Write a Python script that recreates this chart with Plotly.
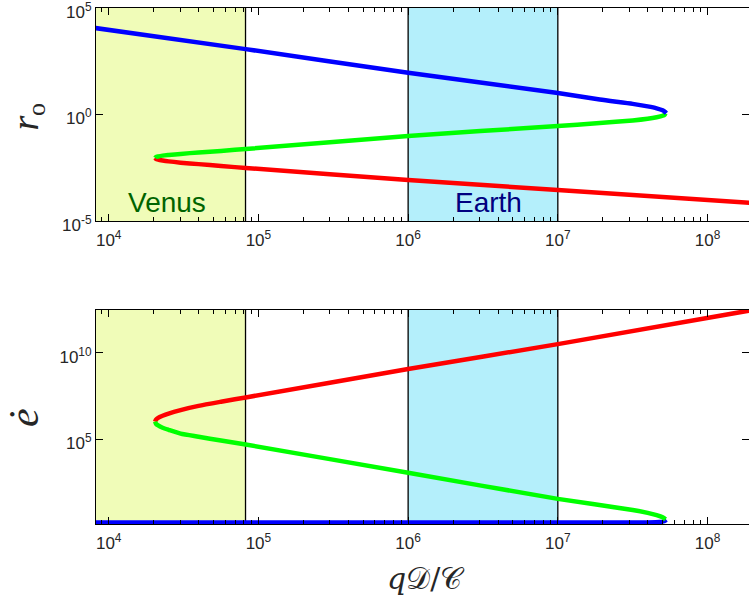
import numpy as np
import plotly.graph_objects as go

# ---- data (log10 values) ----
# top panel: r_o
top_blue_logx = [3.90, 4.915, 6.0, 7.0, 7.28, 7.5, 7.6, 7.66, 7.70, 7.715, 7.725]
top_blue_logy = [4.07, 3.07, 1.96, 1.01, 0.70, 0.50, 0.38, 0.29, 0.20, 0.13, 0.06]
top_green_logx = [4.31, 4.315, 4.33, 4.36, 4.40, 4.48, 4.6, 4.75, 4.915, 6.0, 7.0, 7.28, 7.5, 7.6, 7.66, 7.70, 7.715, 7.72]
top_green_logy = [-2.04, -2.00, -1.97, -1.93, -1.90, -1.85, -1.78, -1.71, -1.62, -1.01, -0.54, -0.40, -0.28, -0.20, -0.13, -0.06, 0.00, 0.05]
top_red_logx = [4.31, 4.315, 4.33, 4.36, 4.40, 4.48, 4.6, 4.75, 4.915, 6.0, 7.0, 8.30]
top_red_logy = [-2.04, -2.08, -2.12, -2.16, -2.20, -2.26, -2.33, -2.42, -2.51, -3.08, -3.54, -4.16]

# bottom panel: e-dot
bot_blue_logx = [3.90, 5.0, 6.0, 7.0, 7.6, 7.68, 7.71, 7.725]
bot_blue_logy = [0.20, 0.20, 0.20, 0.20, 0.20, 0.22, 0.27, 0.36]
bot_green_logx = [4.31, 4.315, 4.33, 4.36, 4.40, 4.48, 4.6, 4.75, 4.915, 6.0, 7.0, 7.5, 7.6, 7.66, 7.70, 7.72]
bot_green_logy = [6.02, 5.91, 5.80, 5.67, 5.55, 5.33, 5.15, 4.93, 4.70, 3.07, 1.56, 0.92, 0.75, 0.62, 0.50, 0.38]
bot_red_logx = [4.31, 4.315, 4.33, 4.36, 4.40, 4.48, 4.6, 4.75, 4.915, 6.0, 7.0, 8.30]
bot_red_logy = [6.02, 6.13, 6.24, 6.36, 6.49, 6.69, 6.93, 7.17, 7.42, 9.06, 10.50, 12.47]

venus_x = [5e3, 8.2e4]
earth_x = [1e6, 1e7]
top_yrange = [-5.0002, 5.0002]
bot_yrange = [0.11, 12.47]
xrange_log = [3.915, 8.277]

x_tickvals = [1e4, 1e5, 1e6, 1e7, 1e8]
x_ticktext = ["10<sup>4</sup>", "10<sup>5</sup>", "10<sup>6</sup>", "10<sup>7</sup>", "10<sup>8</sup>"]
top_y_tickvals = [1e-5, 1e0, 1e5]
top_y_ticktext = ["10<sup>-5</sup>", "10<sup>0</sup>", "10<sup>5</sup>"]
bot_y_tickvals = [1e5, 1e10]
bot_y_ticktext = ["10<sup>5</sup>", "10<sup>10</sup>"]
minor_x = [m * 10 ** e for e in range(3, 9) for m in range(2, 10)]

W, H = 749, 599
fig = go.Figure()

def p(a):
    return 10 ** np.array(a, dtype=float)

def box(xs, ylo, yhi, fill, xa, ya):
    fig.add_trace(go.Scatter(
        x=[xs[0], xs[1], xs[1], xs[0], xs[0]],
        y=[ylo, ylo, yhi, yhi, ylo],
        fill="toself", fillcolor=fill, mode="lines",
        line=dict(color="black", width=1.3),
        xaxis=xa, yaxis=ya, showlegend=False, hoverinfo="skip"))

VEN = "#f0fcb8"
EAR = "#b4effb"
for xa, ya, yr in [("x", "y", top_yrange), ("x2", "y2", bot_yrange)]:
    lo, hi = 10 ** (yr[0] - 0.5), 10 ** (yr[1] + 0.5)
    box(venus_x, lo, hi, VEN, xa, ya)
    box(earth_x, lo, hi, EAR, xa, ya)

LW = 4.5
def curve(lx, ly, color, xa, ya):
    fig.add_trace(go.Scatter(x=p(lx), y=p(ly), mode="lines",
                             line=dict(color=color, width=LW, shape="spline", smoothing=0.6),
                             xaxis=xa, yaxis=ya, showlegend=False))

curve(top_red_logx, top_red_logy, "#ff0000", "x", "y")
curve(top_green_logx, top_green_logy, "#00ff00", "x", "y")
curve(top_blue_logx, top_blue_logy, "#0000ff", "x", "y")
curve(bot_blue_logx, bot_blue_logy, "#0000ff", "x2", "y2")
curve(bot_red_logx, bot_red_logy, "#ff0000", "x2", "y2")
curve(bot_green_logx, bot_green_logy, "#00ff00", "x2", "y2")

tickfont = dict(family="Liberation Sans, Arial, sans-serif", size=17, color="#262626")
xcommon = dict(type="log", range=xrange_log, domain=[96 / W, 1.0],
               tickmode="array", tickvals=x_tickvals, ticktext=x_ticktext,
               ticks="inside", ticklen=7, tickwidth=1, tickcolor="black",
               showline=True, linecolor="black", linewidth=1, mirror="ticks",
               showgrid=False, zeroline=False, tickfont=tickfont,
               ticklabelstandoff=4, ticklabeloverflow="allow",
               minor=dict(ticks="inside", ticklen=4, tickcolor="black",
                          tickmode="array", tickvals=minor_x, showgrid=False),
               automargin=False)
ycommon = dict(type="log", ticks="inside", ticklen=7, tickwidth=1, tickcolor="black",
               showline=True, linecolor="black", linewidth=1, mirror="ticks",
               showgrid=False, zeroline=False, tickfont=tickfont, tickmode="array",
               ticklabeloverflow="allow", ticklabelshift=4, automargin=False)

fig.update_layout(
    width=W, height=H,
    margin=dict(l=0, r=0, t=0, b=0),
    paper_bgcolor="white", plot_bgcolor="white",
    xaxis=dict(**xcommon, anchor="y"),
    xaxis2=dict(**xcommon, anchor="y2"),
    yaxis=dict(**ycommon, range=top_yrange, domain=[1 - 221 / H, 1 - 8 / H],
               tickvals=top_y_tickvals, ticktext=top_y_ticktext, anchor="x"),
    yaxis2=dict(**ycommon, range=bot_yrange, domain=[1 - 524 / H, 1 - 310 / H],
                tickvals=bot_y_tickvals, ticktext=bot_y_ticktext, anchor="x2"),
)

def ann(x, y, text, font, xref="paper", yref="paper", angle=0):
    if xref == "paper":
        x = x / W
    if yref == "paper":
        y = 1 - y / H
    fig.add_annotation(x=x, y=y, xref=xref, yref=yref, text=text, showarrow=False,
                       xanchor="center", yanchor="middle", textangle=angle, font=font)

labfont = dict(family="Liberation Sans, Arial, sans-serif", size=28)
ann(4.39, -4.12, "Venus", dict(**labfont, color="#006400"), xref="x", yref="y")
ann(6.54, -4.12, "Earth", dict(**labfont, color="#000080"), xref="x", yref="y")

serif = "Liberation Serif, DejaVu Serif, serif"
ann(24.5, 123, "<i>r</i>", dict(family=serif, size=38, color="#262626"), angle=-90)
ann(37, 110, "o", dict(family=serif, size=26, color="#262626"), angle=-90)
ann(24, 418, "<i>ė</i>", dict(family=serif, size=42, color="#262626"), angle=-90)
ann(426, 578, "<i>q</i>𝒟/𝒞", dict(family="DejaVu Serif, serif", size=30, color="#262626"))

fig.write_html("out.html", config={"displayModeBar": False},
               post_script="document.body.style.margin='0px';")
